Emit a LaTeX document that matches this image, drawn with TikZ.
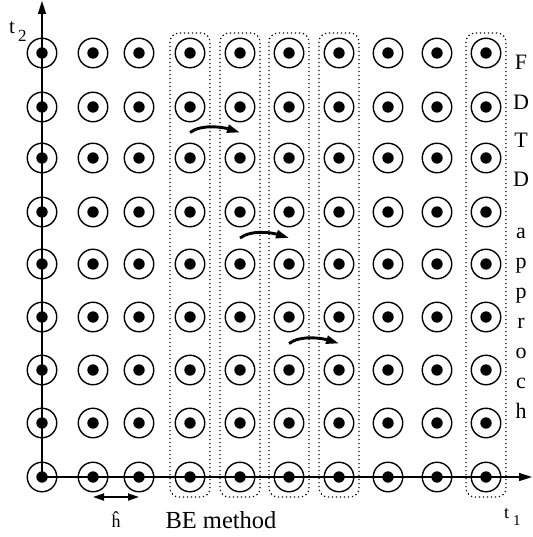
\documentclass[tikz,border=0pt]{standalone}
\usepackage{fontspec}
\setmainfont{Liberation Serif}
\usetikzlibrary{arrows.meta,calc}
\begin{document}
\begin{tikzpicture}[x=1pt,y=-1pt,
  cell/.style={circle,draw,line width=1.4pt,minimum size=29.5pt,inner sep=0pt,
    path picture={\fill (path picture bounding box.center) circle (5.7pt);}},
  axis/.style={line width=1.5pt,-{Triangle[length=13pt,width=8pt]}},
  band/.style={line width=1.2pt,dash pattern=on 1.2pt off 2.8pt,rounded corners=9pt},
  move/.style={line width=2.9pt,-{Triangle[length=13pt,width=8pt]}},
  dim/.style={line width=1.8pt,{Triangle[length=11pt,width=7pt]}-{Triangle[length=11pt,width=7pt]}},
  lab/.style={inner sep=0pt,anchor=base,font=\fontsize{22}{22}\selectfont}]
\useasboundingbox (0,0) rectangle (532,537);
% dotted bands
\foreach \x in {190,240,289,339,486}{
  \draw[band] ({\x-20},33) rectangle ({\x+20},497);
}
% grid of cells
\foreach \x [count=\i from 0] in {42,93,139,190,240,289,339,388,437,486}{
  \foreach \y [count=\j from 0] in {53,107,158,212,264,317,370,423,477}{
    \node[cell] (c-\i-\j) at (\x,\y) {};
  }}
% axes
\coordinate (ytip) at (42,1);
\coordinate (xtip) at (532,477);
\draw[axis] (c-0-8.center) -- (ytip);
\draw[axis] (c-0-8.center) -- (xtip);
% curved moves
\coordinate (s1) at ($(c-3-1)!0.5!(c-3-2)$);
\coordinate (e1) at ($(c-4-1)!0.5!(c-4-2)$);
\coordinate (s2) at ($(c-4-3)!0.5!(c-4-4)$);
\coordinate (e2) at ($(c-5-3)!0.5!(c-5-4)$);
\coordinate (s3) at ($(c-5-5)!0.5!(c-5-6)$);
\coordinate (e3) at ($(c-6-5)!0.5!(c-6-6)$);
\foreach \k in {1,2,3}{
  \draw[move] (s\k) .. controls +(12,-9) and +(-16,-5) .. (e\k);
}
% step size
\coordinate (h1) at ($(c-1-8.center)+(0,20)$);
\coordinate (h2) at ($(c-2-8.center)+(0,20)$);
\draw[dim] (h1) -- (h2);
\node[inner sep=0pt,anchor=base] (hh) at (116,527) {\fontsize{18}{18}\selectfont\^{h}};
\node[inner sep=0pt,anchor=base] (be) at (221,528) {\fontsize{24.5}{24.5}\selectfont BE method};
% axis labels
\node[inner sep=0pt,anchor=base west] (t2) at (9,34) {\fontsize{21}{21}\selectfont t\kern3pt\raisebox{-8pt}{\fontsize{17}{17}\selectfont 2}};
\node[inner sep=0pt,anchor=base west] (t1) at (504,518) {\fontsize{18}{18}\selectfont t\kern4pt\raisebox{-7pt}{\fontsize{15}{15}\selectfont 1}};
% vertical label
\node[lab] (l1) at (521,70) {F};
\node[lab] (l2) at (521,110) {D};
\node[lab] (l3) at (521,148) {T};
\node[lab] (l4) at (521,186) {D};
\node[lab] (l5) at (521,238) {a};
\node[lab] (l6) at (521,268) {p};
\node[lab] (l7) at (521,298) {p};
\node[lab] (l8) at (521,328) {r};
\node[lab] (l9) at (521,358) {o};
\node[lab] (l10) at (521,388) {c};
\node[lab] (l11) at (521,418) {h};
\end{tikzpicture}
\end{document}
